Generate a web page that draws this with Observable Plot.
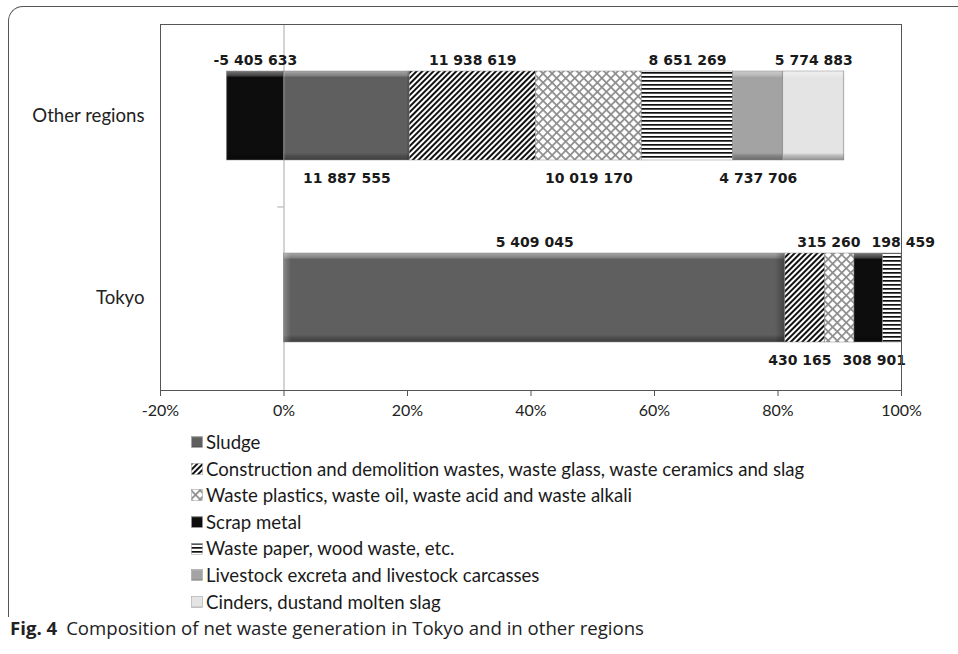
<!DOCTYPE html>
<html>
<head>
<meta charset="utf-8">
<script src="https://cdn.jsdelivr.net/npm/d3@7"></script>
<script src="https://cdn.jsdelivr.net/npm/@observablehq/plot@0.6"></script>
<style>
  html, body { margin: 0; padding: 0; background: #fff; }
  #wrap { position: relative; width: 958px; height: 654px; overflow: hidden; background: #fff; }
  #figframe { position: absolute; left: 8px; top: 6px; width: 1000px; height: 610px;
    border-top: 1px solid #555; border-left: 1px solid #555; border-top-left-radius: 15px; }
  #chart { position: absolute; left: 0; top: 0; }
  #legend { position: absolute; left: 191px; top: 429px; font-family: Lato, sans-serif; font-size: 18.6px; color: #1a1a1a; }
  #legend .row { height: 26.6px; line-height: 26.6px; white-space: nowrap; display: flex; align-items: center; }
  #legend svg { margin-right: 3px; }
  #caption { position: absolute; left: 10px; top: 615px; font-family: "Open Sans", sans-serif; font-size: 18.6px; color: #222; white-space: nowrap; }
  #caption b { font-weight: 700; margin-right: 9px; }
</style>
</head>
<body>
<svg width="0" height="0" style="position:absolute">
  <defs>
    <linearGradient id="bevV" x1="0" y1="0" x2="0" y2="1">
      <stop offset="0" stop-color="#fff" stop-opacity="0.45"/>
      <stop offset="0.055" stop-color="#fff" stop-opacity="0.2"/>
      <stop offset="0.07" stop-color="#fff" stop-opacity="0"/>
      <stop offset="0.92" stop-color="#000" stop-opacity="0"/>
      <stop offset="0.95" stop-color="#000" stop-opacity="0.18"/>
      <stop offset="1" stop-color="#000" stop-opacity="0.35"/>
    </linearGradient>
    <linearGradient id="bevH" x1="0" y1="0" x2="1" y2="0">
      <stop offset="0" stop-color="#fff" stop-opacity="0.25"/>
      <stop offset="0.015" stop-color="#fff" stop-opacity="0"/>
      <stop offset="0.98" stop-color="#000" stop-opacity="0"/>
      <stop offset="1" stop-color="#000" stop-opacity="0.3"/>
    </linearGradient>
    <pattern id="pat0" patternUnits="objectBoundingBox" patternContentUnits="objectBoundingBox" width="1" height="1">
      <rect width="1" height="1" fill="#5f5f5f"/><rect width="1" height="1" fill="url(#bevV)"/><rect width="1" height="1" fill="url(#bevH)"/>
    </pattern>
    <pattern id="pat1" patternUnits="userSpaceOnUse" width="4" height="4" patternTransform="rotate(45)">
      <rect width="4" height="4" fill="#fff"/><rect width="2" height="4" fill="#111"/>
    </pattern>
    <pattern id="pat2" patternUnits="userSpaceOnUse" width="6.4" height="6.4" patternTransform="rotate(45)">
      <rect width="6.4" height="6.4" fill="#fff"/>
      <rect width="1.7" height="6.4" fill="#8c8c8c"/><rect width="6.4" height="1.7" fill="#8c8c8c"/>
    </pattern>
    <pattern id="pat3" patternUnits="objectBoundingBox" patternContentUnits="objectBoundingBox" width="1" height="1">
      <rect width="1" height="1" fill="#0d0d0d"/><rect width="1" height="1" fill="url(#bevV)"/><rect width="1" height="1" fill="url(#bevH)"/>
    </pattern>
    <pattern id="pat4" patternUnits="userSpaceOnUse" width="4" height="4">
      <rect width="4" height="4" fill="#fff"/><rect width="4" height="1.7" fill="#111"/>
    </pattern>
    <pattern id="pat5" patternUnits="objectBoundingBox" patternContentUnits="objectBoundingBox" width="1" height="1">
      <rect width="1" height="1" fill="#a3a3a3"/><rect width="1" height="1" fill="url(#bevV)"/><rect width="1" height="1" fill="url(#bevH)"/>
    </pattern>
    <pattern id="pat6" patternUnits="objectBoundingBox" patternContentUnits="objectBoundingBox" width="1" height="1">
      <rect width="1" height="1" fill="#e4e4e4"/><rect width="1" height="1" fill="url(#bevV)"/><rect width="1" height="1" fill="url(#bevH)"/>
    </pattern>
  </defs>
</svg>
<div id="wrap">
  <div id="figframe"></div>
  <div id="chart"></div>
  <div id="legend"></div>
  <div id="caption"><b>Fig. 4</b>Composition of net waste generation in Tokyo and in other regions</div>
</div>
<script>
// ---- data ----
const regions = ["Other regions", "Tokyo"];
const series = [
  "Sludge",
  "Construction and demolition wastes, waste glass, waste ceramics and slag",
  "Waste plastics, waste oil, waste acid and waste alkali",
  "Scrap metal",
  "Waste paper, wood waste, etc.",
  "Livestock excreta and livestock carcasses",
  "Cinders, dustand molten slag"
];
const otherRegionsValues = [11887555, 11938619, 10019170, -5405633, 8651269, 4737706, 5774883];
const tokyoValues = [5409045, 430165, 315260, 308901, 198459, 0, 0];
const xTicks = [-20, 0, 20, 40, 60, 80, 100];

// ---- build table (percent of sum of absolute values, as Excel 100% stacked) ----
const valuesByRegion = {"Other regions": otherRegionsValues, "Tokyo": tokyoValues};
const rows = [];
for (const r of regions) {
  const vals = valuesByRegion[r];
  const total = d3.sum(vals, v => Math.abs(v));
  vals.forEach((v, i) => { if (v !== 0) rows.push({region: r, series: series[i], idx: i, value: v, pct: v / total * 100}); });
}

// ---- layout ----
const W = 958, H = 430, mL = 160, mR = 57, mT = 24, mB = 40;
const xDomain = [-20, 100];
const pxPerUnit = (W - mL - mR) / (xDomain[1] - xDomain[0]);
const pIn = 0.51, pOut = 0.26;
const step = (H - mT - mB) / (regions.length - pIn + 2 * pOut);
const bw = step * (1 - pIn);

// ---- label positions (centered on segments, alternating above/below, dodged) ----
const fmt = v => d3.format(",")(v).replace(/,/g, " ").replace(/\u2212/g, "-");
const ctx = document.createElement("canvas").getContext("2d");
ctx.font = "bold 14px 'DejaVu Sans'";
const labels = [];
for (const r of regions) {
  const segs = rows.filter(d => d.region === r);
  let pos = 0, neg = 0;
  for (const s of segs) {
    if (s.pct >= 0) { s.x1 = pos; s.x2 = pos + s.pct; pos = s.x2; }
    else { s.x2 = neg; s.x1 = neg + s.pct; neg = s.x1; }
  }
  const sorted = segs.slice().sort((a, b) => a.x1 - b.x1);
  sorted.forEach((s, k) => {
    labels.push({region: r, text: fmt(s.value), side: k % 2 === 0 ? "above" : "below",
      c: (s.x1 + s.x2) / 2, w: ctx.measureText(fmt(s.value)).width / pxPerUnit});
  });
}
const gap = 11 / pxPerUnit;
for (const r of regions) for (const side of ["above", "below"]) {
  const g = labels.filter(l => l.region === r && l.side === side).sort((a, b) => a.c - b.c);
  for (let it = 0; it < 60; it++) {
    for (let i = 0; i + 1 < g.length; i++) {
      const a = g[i], b = g[i + 1];
      const need = (a.w + b.w) / 2 + gap, d = b.c - a.c;
      if (d < need) { const sh = (need - d) / 2; a.c -= sh; b.c += sh; }
    }
  }
}

const labelFont = {fontFamily: "DejaVu Sans", fontWeight: "bold", fontSize: 14, fill: "#1a1a1a"};

const plot = Plot.plot({
  width: W, height: H,
  marginLeft: mL, marginRight: mR, marginTop: mT, marginBottom: mB,
  style: {fontFamily: "Lato, sans-serif", fontSize: "16px", color: "#222", background: "transparent"},
  x: {domain: xDomain},
  y: {domain: regions, paddingInner: pIn, paddingOuter: pOut},
  color: {type: "ordinal", domain: series, range: series.map((s, i) => `url(#pat${i})`)},
  marks: [
    Plot.ruleX([0], {stroke: "#a8a8a8", strokeWidth: 1}),
    Plot.ruleY(["Tokyo"], {x1: -1, x2: 0, dy: -step / 2, stroke: "#a8a8a8"}),
    Plot.barX(rows, Plot.stackX({x: "pct", y: "region", fill: "series", order: series,
      stroke: "#8a8a8a", strokeWidth: 0.5})),
    Plot.text(labels.filter(l => l.side === "above"), {x: "c", y: "region", text: "text",
      dy: -(bw / 2 + 11), ...labelFont}),
    Plot.text(labels.filter(l => l.side === "below"), {x: "c", y: "region", text: "text",
      dy: bw / 2 + 18, ...labelFont}),
    Plot.frame({stroke: "#555"}),
    Plot.axisX({ticks: xTicks, tickFormat: d => d + "%", tickSize: 6, tickPadding: 8,
      fontSize: 16, fontFamily: "Lato, sans-serif", label: null, stroke: "#555"}),
    Plot.axisY({tickSize: 0, tickPadding: 16, fontSize: 18.6, fontFamily: "Lato, sans-serif", label: null})
  ]
});
document.getElementById("chart").appendChild(plot);

// ---- legend ----
const legend = d3.select("#legend");
series.forEach((s, i) => {
  const row = legend.append("div").attr("class", "row");
  const svg = row.append("svg").attr("width", 12).attr("height", 12);
  svg.append("rect").attr("x", 0.5).attr("y", 0.5).attr("width", 11).attr("height", 11)
    .attr("fill", `url(#pat${i})`).attr("stroke", "#999").attr("stroke-width", 0.5);
  row.append("span").text(s);
});
</script>
</body>
</html>
